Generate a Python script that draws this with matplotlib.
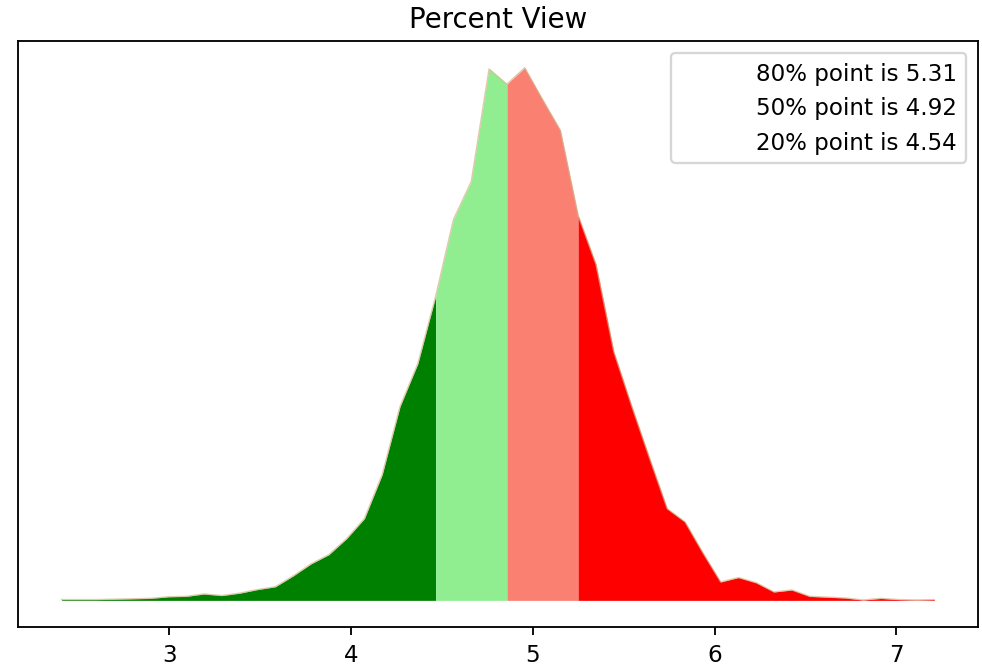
import matplotlib
matplotlib.use("Agg")
import matplotlib.pyplot as plt

# --------------------------------------------------
# Data
# --------------------------------------------------
x_vals = [
    2.407, 2.505, 2.603, 2.701, 2.799, 2.897, 2.995, 3.093, 3.191, 3.289,
    3.387, 3.485, 3.583, 3.681, 3.779, 3.877, 3.975, 4.073, 4.171, 4.269,
    4.367, 4.465, 4.563, 4.661, 4.759, 4.857, 4.955, 5.053, 5.151, 5.249,
    5.347, 5.445, 5.543, 5.641, 5.739, 5.837, 5.935, 6.033, 6.131, 6.229,
    6.327, 6.425, 6.523, 6.621, 6.719, 6.817, 6.915, 7.013, 7.111, 7.209,
]
density = [
    0.002, 0.002, 0.002, 0.003, 0.004, 0.005, 0.009, 0.010, 0.016, 0.012,
    0.018, 0.027, 0.034, 0.061, 0.091, 0.114, 0.154, 0.204, 0.314, 0.484,
    0.591, 0.759, 0.951, 1.046, 1.327, 1.289, 1.330, 1.251, 1.174, 0.961,
    0.839, 0.621, 0.486, 0.356, 0.229, 0.196, 0.119, 0.046, 0.057, 0.044,
    0.021, 0.026, 0.010, 0.008, 0.006, 0.001, 0.005, 0.002, 0.001, 0.002,
]

# indices where the colour bands change
split_idx = [21, 25, 29]
band_colors = ["green", "lightgreen", "salmon", "red"]

legend_labels = [
    "80% point is 5.31",
    "50% point is 4.92",
    "20% point is 4.54",
]


# --------------------------------------------------
# Plot
# --------------------------------------------------
fig = plt.figure(figsize=(982 / 166, 670 / 166), dpi=166)
ax = fig.add_axes([0.0183, 0.0627, 0.9776, 0.8745])

ax.plot(x_vals, density, color="tan", linewidth=0.6, alpha=0.7)

bounds = [0] + split_idx + [len(x_vals) - 1]
for k, color in enumerate(band_colors):
    a, b = bounds[k], bounds[k + 1] + 1
    ax.fill_between(
        x_vals[a:b],
        0,
        density[a:b],
        color=color,
        linewidth=0
    )

for label in legend_labels:
    ax.plot([], [], " ", label=label)

ax.legend(loc="upper right", handlelength=2.5)
ax.set_yticks([])
ax.set_title("Percent View")

fig.savefig("out.png", dpi=166)
